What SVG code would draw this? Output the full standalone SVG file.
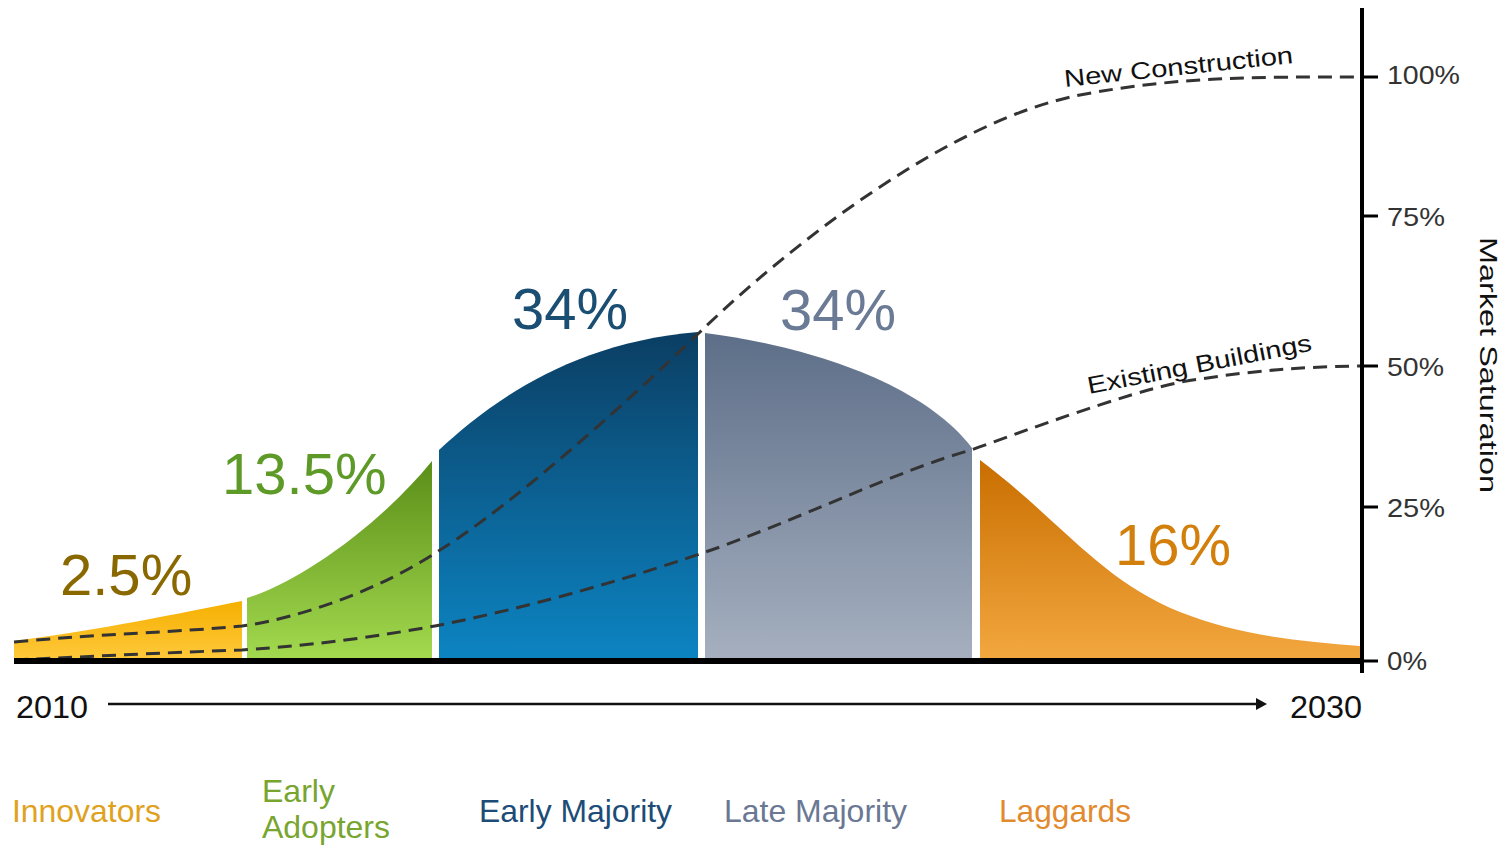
<svg xmlns="http://www.w3.org/2000/svg" width="1508" height="846" viewBox="0 0 1508 846">
<style>
.pct{font-family:"Liberation Sans",Arial,sans-serif;font-size:58px}
.tick{font-family:"Liberation Sans",Arial,sans-serif;font-size:26px;fill:#333}
.cat{font-family:"Liberation Sans",Arial,sans-serif;font-size:32px}
.yr{font-family:"Liberation Sans",Arial,sans-serif;font-size:32px;fill:#111}
.curve{font-family:"Liberation Sans",Arial,sans-serif;font-size:24px;fill:#111}
.dash{fill:none;stroke:#333;stroke-width:3;stroke-dasharray:14 8}
.axis{stroke:#000;fill:none}
</style>
<defs>
<linearGradient id="gY" x1="0" y1="0" x2="0" y2="1"><stop offset="0" stop-color="#F5B000"/><stop offset="1" stop-color="#FFC83A"/></linearGradient>
<linearGradient id="gG" x1="0" y1="0" x2="0" y2="1"><stop offset="0" stop-color="#5A8E18"/><stop offset="1" stop-color="#A2D94E"/></linearGradient>
<linearGradient id="gB" x1="0" y1="0" x2="0" y2="1"><stop offset="0" stop-color="#0B3E63"/><stop offset="1" stop-color="#0C84C2"/></linearGradient>
<linearGradient id="gS" x1="0" y1="0" x2="0" y2="1"><stop offset="0" stop-color="#5D6E88"/><stop offset="1" stop-color="#A5AFBF"/></linearGradient>
<linearGradient id="gO" x1="0" y1="0" x2="0" y2="1"><stop offset="0" stop-color="#C96E00"/><stop offset="1" stop-color="#F2A73E"/></linearGradient>
</defs>
<rect width="1508" height="846" fill="#fff"/>

<g id="innovators">
<path d="M14,658 L14,641 C100,630 180,613 242,601 L242,658 Z" fill="url(#gY)"/>
<text class="pct" x="60" y="595" fill="#8A6800">2.5%</text>
<text class="cat" x="12" y="822" fill="#E0A21E" textLength="149" lengthAdjust="spacingAndGlyphs">Innovators</text>
</g>
<g id="early-adopters">
<path d="M247,658 L247,598 C300,582 380,525 432,461 L432,658 Z" fill="url(#gG)"/>
<text class="pct" x="222" y="494" fill="#5E9A28">13.5%</text>
<text class="cat" x="262" y="802" fill="#78A530" textLength="73" lengthAdjust="spacingAndGlyphs">Early</text>
<text class="cat" x="262" y="838" fill="#78A530" textLength="128" lengthAdjust="spacingAndGlyphs">Adopters</text>
</g>
<g id="early-majority">
<path d="M439,658 L439,450 C485,408 565,343 698,332 L698,658 Z" fill="url(#gB)"/>
<text class="pct" x="512" y="329" fill="#1A4E73">34%</text>
<text class="cat" x="479" y="822" fill="#1D4C78" textLength="193" lengthAdjust="spacingAndGlyphs">Early Majority</text>
</g>
<g id="late-majority">
<path d="M705,658 L705,333 C800,345 920,380 972,448 L972,658 Z" fill="url(#gS)"/>
<text class="pct" x="780" y="330" fill="#6B7A95">34%</text>
<text class="cat" x="724" y="822" fill="#6A7894" textLength="183" lengthAdjust="spacingAndGlyphs">Late Majority</text>
</g>
<g id="laggards">
<path d="M980,658 L980,460 C1060,520 1100,580 1180,612 C1240,636 1300,641 1360,646 L1360,658 Z" fill="url(#gO)"/>
<text class="pct" x="1115" y="565" fill="#D27F0C">16%</text>
<text class="cat" x="999" y="822" fill="#E28A2E" textLength="132" lengthAdjust="spacingAndGlyphs">Laggards</text>
</g>

<g id="connectors">
<path id="nc" class="dash" d="M14,642 C100,634 180,632 242,626 C300,618 380,590 440,550 C520,500 640,390 700,332 C790,245 950,120 1080,95 C1180,76 1260,77 1362,77"/>
<path id="eb" class="dash" d="M14,660 C100,656 180,652 242,650 C320,645 380,636 440,625 C540,605 640,575 720,547 C820,510 900,470 971,450 C1060,418 1150,385 1200,379 C1260,370 1300,367 1362,366"/>
<line x1="108" y1="704" x2="1258" y2="704" stroke="#111" stroke-width="2.5"/>
<polygon points="1256,698 1267,704 1256,710" fill="#111"/>
</g>

<g id="axes">
<rect x="14" y="658" width="1350" height="6" fill="#000"/>
<line class="axis" x1="1362" y1="8" x2="1362" y2="673" stroke-width="4"/>
<g stroke="#000" stroke-width="3">
<line x1="1362" y1="77" x2="1378" y2="77"/>
<line x1="1362" y1="216" x2="1378" y2="216"/>
<line x1="1362" y1="366" x2="1378" y2="366"/>
<line x1="1362" y1="507" x2="1378" y2="507"/>
<line x1="1362" y1="661" x2="1378" y2="661"/>
</g>
<text class="tick" x="1387" y="84" textLength="73" lengthAdjust="spacingAndGlyphs">100%</text>
<text class="tick" x="1387" y="226" textLength="58" lengthAdjust="spacingAndGlyphs">75%</text>
<text class="tick" x="1387" y="376" textLength="57" lengthAdjust="spacingAndGlyphs">50%</text>
<text class="tick" x="1387" y="517" textLength="58" lengthAdjust="spacingAndGlyphs">25%</text>
<text class="tick" x="1387" y="670" textLength="40" lengthAdjust="spacingAndGlyphs">0%</text>
<text class="curve" x="1480" y="237" transform="rotate(90 1480 237)" font-size="29" textLength="256" lengthAdjust="spacingAndGlyphs">Market Saturation</text>
<text class="yr" x="16" y="718" textLength="72" lengthAdjust="spacingAndGlyphs">2010</text>
<text class="yr" x="1290" y="718" textLength="72" lengthAdjust="spacingAndGlyphs">2030</text>
</g>

<g id="curve-labels">
<text class="curve" x="1065" y="87" transform="rotate(-6 1065 87)" textLength="230" lengthAdjust="spacingAndGlyphs">New Construction</text>
<text class="curve" x="1089" y="394" transform="rotate(-11 1089 394)" textLength="228" lengthAdjust="spacingAndGlyphs">Existing Buildings</text>
</g>
</svg>
